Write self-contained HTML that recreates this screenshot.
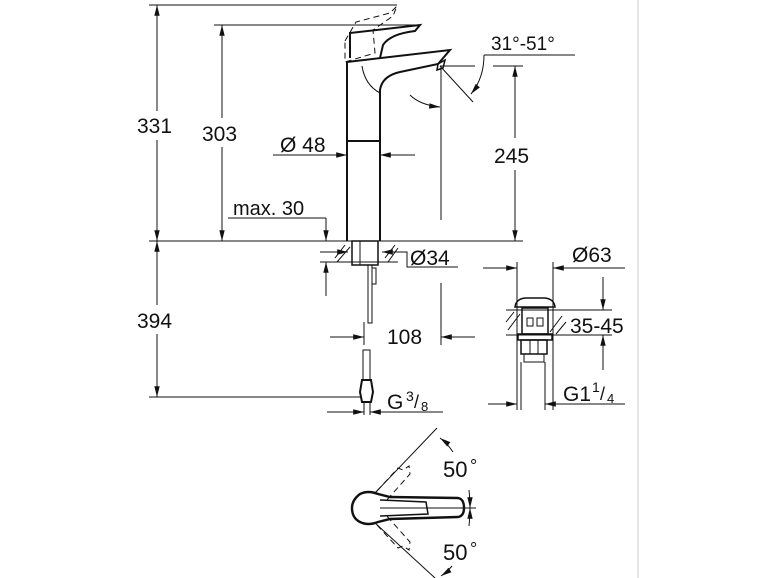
<!DOCTYPE html>
<html><head><meta charset="utf-8"><style>
html,body{margin:0;padding:0;background:#fff;}
svg{display:block;}
text{font-family:"Liberation Sans",sans-serif;fill:#111;}
</style></head><body>
<svg width="770" height="578" viewBox="0 0 770 578" xmlns="http://www.w3.org/2000/svg">
<defs>
<marker id="a" viewBox="0 0 12 10" refX="12" refY="5" markerWidth="11" markerHeight="9" markerUnits="userSpaceOnUse" orient="auto-start-reverse"><path d="M0,2 L12,5 L0,8 Z" fill="#111"/></marker>
</defs>
<line x1="638" y1="0" x2="638" y2="578" stroke="#ccc" stroke-width="1"/>
<g stroke="#111" stroke-width="1" fill="none">
<line x1="149" y1="5" x2="397" y2="5"/>
<line x1="157" y1="5" x2="157" y2="111" marker-start="url(#a)"/>
<line x1="157" y1="140" x2="157" y2="241" marker-end="url(#a)"/>
<line x1="214" y1="25" x2="420" y2="25"/>
<line x1="222" y1="25" x2="222" y2="118" marker-start="url(#a)"/>
<line x1="222" y1="147" x2="222" y2="241" marker-end="url(#a)"/>
<line x1="149" y1="241" x2="523" y2="241"/>
<line x1="157" y1="241" x2="157" y2="305" marker-start="url(#a)"/>
<line x1="157" y1="334" x2="157" y2="397" marker-end="url(#a)"/>
<line x1="149" y1="397" x2="362" y2="397"/>
<line x1="228" y1="218" x2="326" y2="218"/>
<line x1="326" y1="218" x2="326" y2="241" marker-end="url(#a)"/>
<line x1="326" y1="296" x2="326" y2="262" marker-end="url(#a)"/>
<g stroke-width="2">
<path d="M347,241 L347,62 L450,50 L438,64 L400,72 Q382,76 380,90 L380,241"/>
<line x1="347" y1="141" x2="380" y2="141"/>
<path d="M350,58 L350,33 L420,25 L415,31 Q390,34 383,45 L380,58"/>
<path d="M438,64 L445,60 L443,68 L437,70 Z" stroke-width="1.5"/>
</g>
<path d="M362,66 Q365,85 380,93"/>
<path d="M345,41 L356,22 L390,13 L397,6 L393,16 L373,30 L375,53 L345,62 Z" stroke-dasharray="6,4"/>
<line x1="273" y1="155" x2="347" y2="155" marker-end="url(#a)"/>
<line x1="415" y1="155" x2="380" y2="155" marker-end="url(#a)"/>
<line x1="493" y1="66" x2="523" y2="66"/>
<line x1="440" y1="66" x2="475" y2="66"/>
<line x1="441" y1="66" x2="441" y2="220"/>
<line x1="515" y1="66" x2="515" y2="138" marker-start="url(#a)"/>
<line x1="515" y1="170" x2="515" y2="241" marker-end="url(#a)"/>
<line x1="440" y1="66" x2="473" y2="102"/>
<line x1="484" y1="55" x2="575" y2="55"/>
<path d="M484,55 Q484,78 471,94" marker-end="url(#a)"/>
<path d="M410,95 Q420,105 440,107" marker-end="url(#a)"/>
<line x1="330" y1="241" x2="398" y2="241"/>
<line x1="320" y1="262" x2="398" y2="262"/>
<line x1="320" y1="252" x2="348" y2="252" marker-end="url(#a)"/>
<line x1="395" y1="252" x2="382" y2="252" marker-end="url(#a)"/>
<path d="M395,252 L407,252 L407,267 L458,267"/>
<path d="M335,258 L345,245 M337,262 L350,247 M385,258 L395,245 M388,262 L398,248"/>
<rect x="352" y="241" width="26" height="24" stroke-width="1.5"/>
<line x1="360" y1="241" x2="360" y2="265"/>
<rect x="368" y="265" width="4" height="58"/>
<rect x="372" y="268" width="4" height="16"/>
<line x1="364" y1="322" x2="364" y2="345"/>
<line x1="330" y1="337" x2="364" y2="337" marker-end="url(#a)"/>
<line x1="441" y1="283" x2="441" y2="345"/>
<line x1="475" y1="337" x2="441" y2="337" marker-end="url(#a)"/>
<rect x="363" y="350" width="7" height="30"/>
<path d="M362,380 L371,380 L373,392 L371,402 L362,402 L360,392 Z" stroke-width="2"/>
<line x1="364" y1="402" x2="364" y2="415"/>
<line x1="370" y1="402" x2="370" y2="415"/>
<line x1="327" y1="412" x2="364" y2="412" marker-end="url(#a)"/>
<line x1="443" y1="412" x2="370" y2="412"/>
<line x1="395" y1="412" x2="370" y2="412" marker-end="url(#a)"/>
<line x1="517" y1="262" x2="517" y2="410"/>
<line x1="553" y1="262" x2="553" y2="410"/>
<line x1="483" y1="268" x2="517" y2="268" marker-end="url(#a)"/>
<line x1="590" y1="268" x2="553" y2="268" marker-end="url(#a)"/>
<line x1="553" y1="268" x2="625" y2="268"/>
<path d="M515,307 Q516,299 525,298 L545,298 Q554,299 555,307 Z" stroke-width="1.5"/>
<line x1="506" y1="310" x2="612" y2="310"/>
<line x1="506" y1="335" x2="612" y2="335"/>
<path d="M508,330 L520,314 M506,322 L514,312 M550,332 L562,316 M556,334 L566,322"/>
<rect x="522" y="308" width="26" height="26" stroke-width="1.5"/>
<rect x="527" y="318" width="6" height="8"/><rect x="537" y="318" width="6" height="8"/>
<rect x="518" y="334" width="34" height="6" stroke-width="1.5"/>
<rect x="521" y="340" width="26" height="14" stroke-width="1.5"/>
<line x1="530" y1="340" x2="530" y2="354"/><line x1="538" y1="340" x2="538" y2="354"/>
<rect x="524" y="354" width="20" height="8"/>
<line x1="603" y1="277" x2="603" y2="310" marker-end="url(#a)"/>
<line x1="603" y1="370" x2="603" y2="335" marker-end="url(#a)"/>
<line x1="488" y1="404" x2="517" y2="404" marker-end="url(#a)"/>
<line x1="625" y1="404" x2="545" y2="404"/>
<line x1="565" y1="404" x2="545" y2="404" marker-end="url(#a)"/>
<line x1="545" y1="362" x2="545" y2="410"/>
<line x1="521" y1="362" x2="521" y2="410"/>
<path d="M378,494 Q368,490 360,494 Q352,500 352,508 Q352,518 360,522 Q368,526 378,522 L390,519 L458,517 Q464,516 464,508 Q464,499 458,498 L390,497 Z" stroke-width="2.4"/>
<path d="M380,500 L426,502 L428,514 L380,516" stroke-width="1.5"/>
<line x1="380" y1="508" x2="476" y2="508"/>
<line x1="374" y1="494" x2="437" y2="428"/>
<line x1="374" y1="522" x2="435" y2="578"/>
<path d="M377,491 L398,468 L403,470 L409,466 L410,474 L385,502" stroke-dasharray="6,4"/>
<path d="M377,525 L398,548 L403,546 L409,550 L410,542 L385,514" stroke-dasharray="6,4"/>
<path d="M453,452 Q447,443 440,438" marker-end="url(#a)"/>
<path d="M469,490 Q470,500 470,508" marker-end="url(#a)"/>
<path d="M469,526 Q470,516 470,508" marker-end="url(#a)"/>
<path d="M452,566 Q447,572 441,576" marker-end="url(#a)"/>
</g>
<g font-size="21">
<text x="137" y="133">331</text>
<text x="202" y="141">303</text>
<text x="137" y="328">394</text>
<text x="280" y="152">Ø 48</text>
<text x="494" y="163">245</text>
<text x="491" y="50" font-size="19">31°-51°</text>
<text x="233" y="215" font-size="20">max. 30</text>
<text x="410" y="265">Ø34</text>
<text x="387" y="344">108</text>
<text x="572" y="262">Ø63</text>
<text x="570" y="333">35-45</text>
<text x="387" y="409">G</text>
<text x="406" y="401" font-size="14">3</text>
<text x="414" y="408" font-size="18">/</text>
<text x="421" y="411" font-size="13">8</text>
<text x="563" y="401">G1</text>
<text x="592" y="392" font-size="14">1</text>
<text x="600" y="400" font-size="18">/</text>
<text x="607" y="403" font-size="13">4</text>
<text x="443" y="477" font-size="22">50</text><text x="470" y="472" font-size="18">°</text>
<text x="443" y="560" font-size="22">50</text><text x="470" y="555" font-size="18">°</text>
</g>
</svg>
</body></html>
